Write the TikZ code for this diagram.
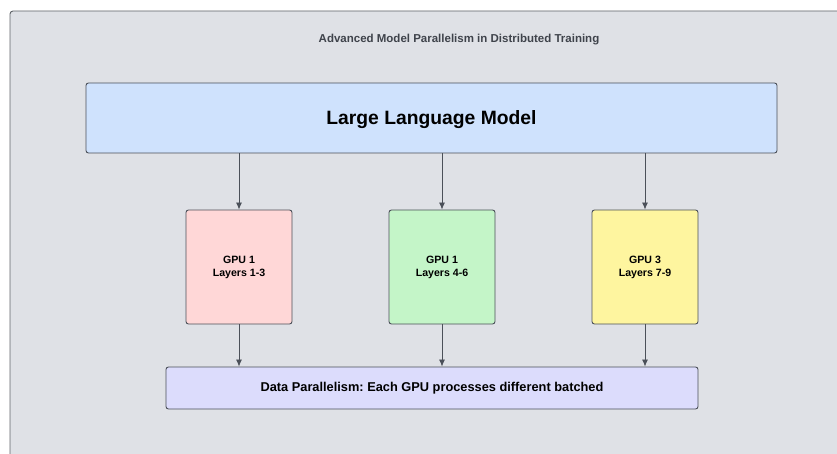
\documentclass[tikz,border=0pt]{standalone}
\usepackage{fontspec}
\setmainfont{Liberation Sans}
\usepackage{xcolor}
\usetikzlibrary{arrows.meta}

\definecolor{panelfill}{HTML}{DFE1E6}
\definecolor{panelline}{HTML}{5F6368}
\definecolor{boxline}{HTML}{4B5059}
\definecolor{titlegray}{HTML}{3F434B}
\definecolor{llmfill}{HTML}{CFE2FD}
\definecolor{gpuafill}{HTML}{FFD7D7}
\definecolor{gpubfill}{HTML}{C4F5C8}
\definecolor{gpucfill}{HTML}{FEF59F}
\definecolor{datafill}{HTML}{DCDCFC}

\frenchspacing
\begin{document}
\begin{tikzpicture}[x=1pt,y=-1pt,font=\bfseries,
  block/.style={draw=boxline,line width=0.9pt,rounded corners=2.5pt,inner sep=0pt,align=center},
  gpu/.style={block,minimum width=106pt,minimum height=114pt,font=\bfseries\fontsize{10.6}{13}\selectfont},
  link/.style={-{Latex[length=7pt,width=6pt]},draw=boxline,line width=0.8pt}]
\useasboundingbox (0,0) rectangle (837,454);
\clip (0,0) rectangle (837,454);

\draw[fill=panelfill,draw=panelline,line width=0.9pt,rounded corners=3pt] (10,11) rectangle (870,480);

\node (title) at (459,40) [text=titlegray,font=\bfseries\fontsize{11.5}{13}\selectfont]
  {Advanced Model Parallelism in Distributed Training};

\node (llm) at (431.5,118) [block,fill=llmfill,minimum width=691pt,minimum height=70pt,
  text depth=0pt,font=\bfseries\fontsize{19.3}{22}\selectfont] {Large Language Model};

\node (gpua) at (239,267) [gpu,fill=gpuafill] {GPU 1\\Layers 1-3};
\node (gpub) at (442,267) [gpu,fill=gpubfill] {GPU 1\\Layers 4-6};
\node (gpuc) at (645,267) [gpu,fill=gpucfill] {GPU 3\\Layers 7-9};

\node (data) at (432,388) [block,fill=datafill,minimum width=532pt,minimum height=42pt,
  font=\bfseries\fontsize{12.8}{15}\selectfont] {Data Parallelism: Each GPU processes different batched};

\draw[link] (llm.south -| gpua.north) -- (gpua.north);
\draw[link] (llm.south -| gpub.north) -- (gpub.north);
\draw[link] (llm.south -| gpuc.north) -- (gpuc.north);

\draw[link] (gpua.south) -- (gpua.south |- data.north);
\draw[link] (gpub.south) -- (gpub.south |- data.north);
\draw[link] (gpuc.south) -- (gpuc.south |- data.north);
\end{tikzpicture}
\end{document}
